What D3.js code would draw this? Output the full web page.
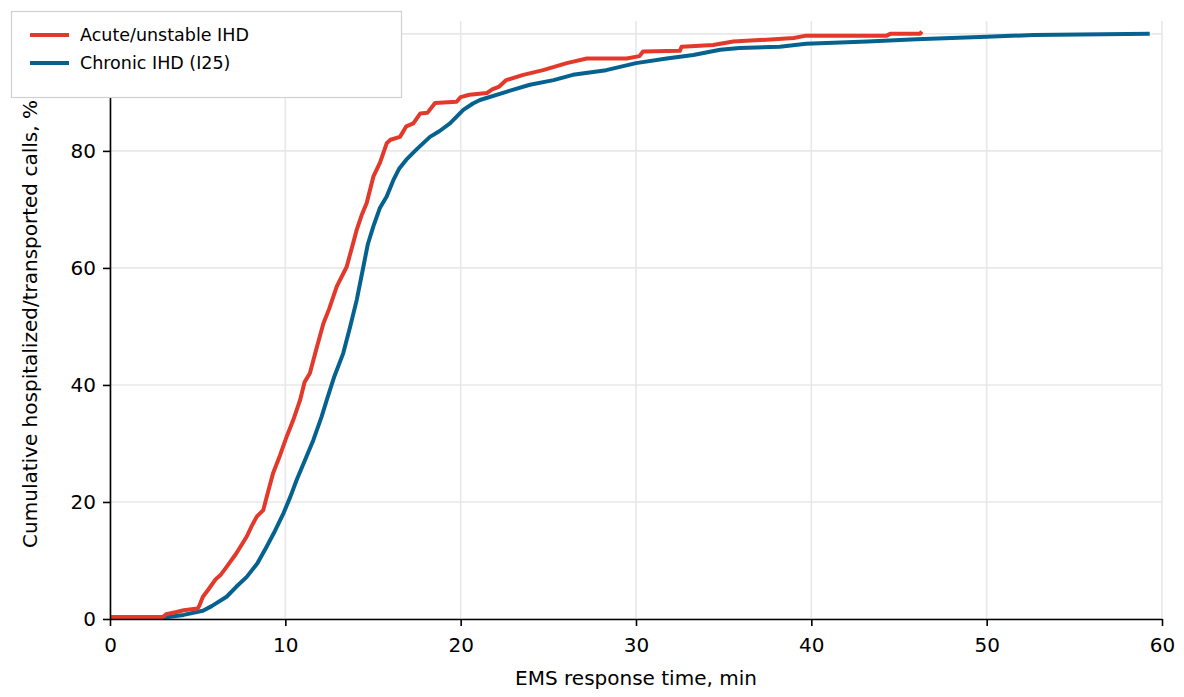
<!DOCTYPE html>
<html><head><meta charset="utf-8">
<script src="https://cdn.jsdelivr.net/npm/d3@7"></script>
<style>body{margin:0;background:#fff}svg{display:block}text{font-family:"DejaVu Sans",sans-serif}</style>
</head><body><svg id="c" width="1184" height="697"></svg>
<script>
const seriesNames = ["Acute/unstable IHD", "Chronic IHD (I25)"];
const seriesColors = ["#e2392b", "#05628f"];
const acuteT = [0,3.0,3.2,3.8,4.2,5.0,5.1,5.3,5.6,6.0,6.3,6.65,7.2,7.8,8.1,8.37,8.74,8.94,9.3,9.7,10.08,10.45,10.84,11.1,11.4,11.8,12.17,12.5,12.93,13.5,13.8,14.07,14.35,14.64,15.02,15.4,15.78,16.0,16.54,16.9,17.3,17.7,18.1,18.54,19.77,20.0,20.5,21.5,21.8,22.2,22.6,23.57,24.7,26.05,27.2,29.47,30.2,30.4,32.5,32.6,34.4,35.55,37.45,39.0,39.7,44.3,44.5,46.2,46.3];
const acuteV = [0.3,0.3,0.8,1.2,1.5,1.8,2.3,3.8,5.0,6.7,7.5,8.9,11.2,14.1,16.0,17.5,18.6,20.9,24.9,28,31.2,34.0,37.4,40.5,42,46.5,50.5,53,56.8,60.2,63.5,66.5,69,71.1,75.6,78,81.3,81.9,82.4,84.2,84.7,86.4,86.5,88.2,88.4,89.2,89.6,89.9,90.5,91.0,92.1,93.0,93.8,95.0,95.8,95.8,96.2,97.0,97.1,97.8,98.1,98.7,99.0,99.3,99.7,99.7,100,100,100.4];
const chronicT = [0,3.2,4.2,5.3,5.8,6.65,7.2,7.8,8.4,8.94,9.4,9.9,10.3,10.65,11.1,11.6,12.07,12.36,12.8,13.3,13.7,14.07,14.45,14.7,15.02,15.4,15.78,16.16,16.5,16.9,17.5,18.25,18.8,19.39,20.15,20.7,21.1,22.6,23.95,25.3,26.4,28.3,30.0,31.75,33.27,34.8,35.9,38.2,39.7,43.2,46,50,52.66,59.3];
const chronicV = [0.3,0.3,0.7,1.4,2.2,3.8,5.5,7.2,9.5,12.4,15,18.1,21,23.8,27,30.6,34.6,37.4,41.5,45.4,50,54.5,60.2,64,67.1,70.3,72.2,75,77,78.5,80.3,82.4,83.4,84.7,87,88.1,88.7,90.1,91.3,92.1,93.0,93.8,95.0,95.8,96.4,97.3,97.6,97.8,98.3,98.7,99.1,99.5,99.8,100];
const xTicks = [0,10,20,30,40,50,60];
const yTicks = [0,20,40,60,80,100];
const yTickLabels = ["0","20","40","60","80",""];
const xLabel = "EMS response time, min";
const yLabel = "Cumulative hospitalized/transported calls, %";

const svg = d3.select("#c");
const L = 110, R = 1162, T = 21, B = 619;
const x = d3.scaleLinear().domain([0,60]).range([L,R]);
const y = d3.scaleLinear().domain([0,102.2]).range([B,T]);

// grid
const g = svg.append("g");
g.selectAll(".vg").data(xTicks).join("line").attr("x1",d=>x(d)).attr("x2",d=>x(d)).attr("y1",T).attr("y2",B).attr("stroke","#e8e8e8").attr("stroke-width",1.6);
g.selectAll(".hg").data(yTicks).join("line").attr("x1",L).attr("x2",R).attr("y1",d=>y(d)).attr("y2",d=>y(d)).attr("stroke","#e8e8e8").attr("stroke-width",1.6);

// lines
const series = [
  {t: acuteT, v: acuteV},
  {t: chronicT, v: chronicV}
];
const line = d3.line().x(d=>x(d[0])).y(d=>y(d[1]));
[1,0].forEach(i => {
  const pts = series[i].t.map((t,k)=>[t, series[i].v[k]]);
  svg.append("path").attr("d", line(pts)).attr("fill","none").attr("stroke",seriesColors[i]).attr("stroke-width",4).attr("stroke-linejoin","round");
});

// axes
const xa = svg.append("g").attr("transform",`translate(0,${B})`).call(d3.axisBottom(x).tickValues(xTicks).tickSize(7).tickPadding(12).tickSizeOuter(0));
const ya = svg.append("g").attr("transform",`translate(${L},0)`).call(d3.axisLeft(y).tickValues(yTicks).tickFormat((d,i)=>yTickLabels[i]).tickSize(7).tickPadding(7).tickSizeOuter(0));
[xa,ya].forEach(a=>{
  a.selectAll("text").attr("font-size",20).attr("fill","#000").style("font-family","DejaVu Sans");
  a.selectAll("line").attr("stroke","#000").attr("stroke-width",1.6);
  a.select(".domain").attr("stroke","#000").attr("stroke-width",1.6);
});
ya.selectAll(".tick").filter(d=>d===100).select("line").remove();

svg.append("text").attr("x",(L+R)/2).attr("y",685).attr("text-anchor","middle").attr("font-size",20).text(xLabel);
svg.append("text").attr("transform",`translate(37,${(T+B)/2 + 4}) rotate(-90)`).attr("text-anchor","middle").attr("font-size",20).text(yLabel);

// legend
const lg = svg.append("g");
lg.append("rect").attr("x",11.5).attr("y",11.5).attr("width",390).attr("height",86).attr("fill","#fff").attr("stroke","#d0d0d0").attr("stroke-width",1.2);
seriesNames.forEach((n,i)=>{
  const yy = 35 + i*28;
  lg.append("line").attr("x1",30).attr("x2",69).attr("y1",yy).attr("y2",yy).attr("stroke",seriesColors[i]).attr("stroke-width",4);
  lg.append("text").attr("x",80).attr("y",yy+6).attr("font-size",17.5).text(n);
});
</script></body></html>
